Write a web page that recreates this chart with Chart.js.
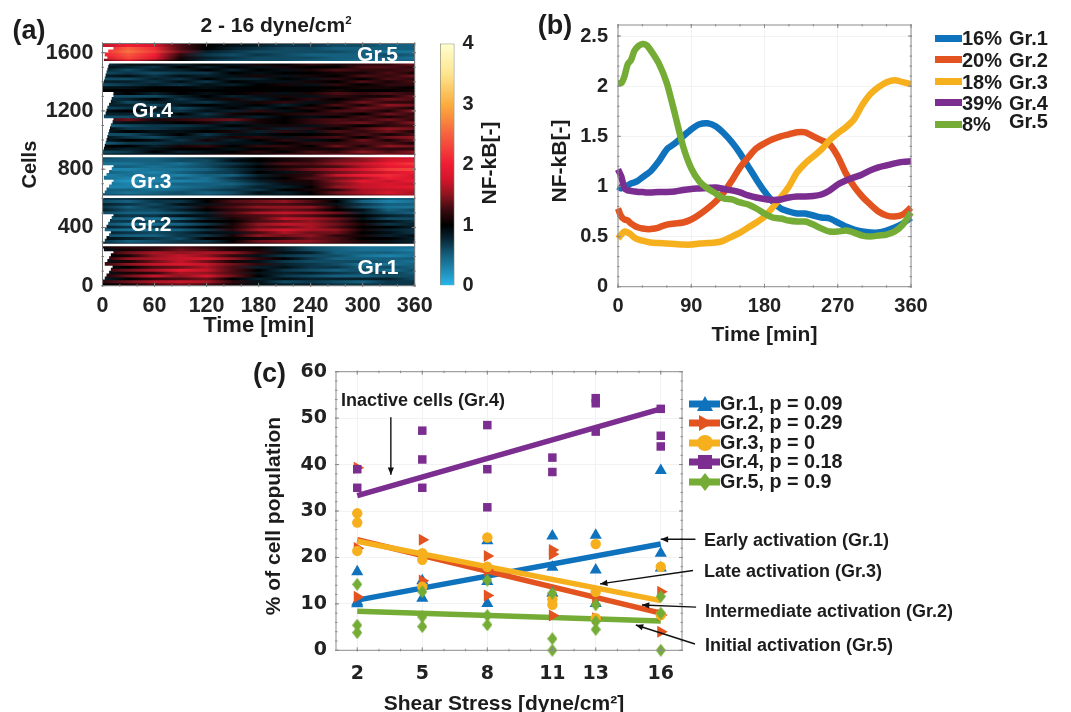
<!DOCTYPE html>
<html>
<head>
<meta charset="utf-8">
<title>NF-kB activation groups</title>
<script src="https://cdn.jsdelivr.net/npm/chart.js@4/dist/chart.umd.min.js"></script>
<style>
  html, body { margin: 0; background: #fff; }
  #page { position: relative; width: 1071px; height: 712px; overflow: hidden; filter: blur(0.45px); }
  #page canvas { position: absolute; }
  .txt { position: absolute; white-space: nowrap; color: #1c1c1c; font-weight: bold; font-family: "Liberation Sans", sans-serif; line-height: 1; transform: translate(-50%, -50%); }
  .txt.start { transform: translate(0, -50%); }
  sup { font-size: 55%; line-height: 0; }
</style>
</head>
<body>
<div id="page"></div>
<script>
// ---- Panel (a) heat map ----
const heatTimes = [0, 30, 60, 90, 120, 150, 180, 210, 240, 270, 300, 330, 360];
const heatXTicks = [0, 60, 120, 180, 240, 300, 360];
const heatYTicks = [0, 400, 800, 1200, 1600];
const groupEdges = [0, 279, 611, 891, 1534, 1663];

// each row is one strip of cells, listed bottom to top
const gr1Rows = [
  [1.0,1.1,1.3,1.4,1.3,1.1,.9,.8,.8,.7,.7,.7,.7],
  [1.2,1.4,1.6,1.7,1.6,1.2,.9,.6,.7,.6,.5,.7,.7],
  [.8,1.0,1.2,1.3,1.4,1.0,.8,.9,.8,.8,.8,.8,.6],
  [1.1,1.4,1.7,1.5,1.8,1.4,1.0,.7,.6,.5,.5,.6,.6],
  [.9,1.1,1.2,1.6,1.5,1.3,.9,.8,.8,.7,.6,.7,.5],
  [1.2,1.4,1.6,1.9,1.7,1.3,1.0,.7,.6,.5,.6,.4,.6],
  [.9,1.0,1.3,1.4,1.6,1.3,.8,.9,.7,.7,.5,.6,.5],
  [1.2,1.5,1.7,1.8,1.7,1.4,1.2,.8,.7,.6,.4,.4,.5],
  [.9,1.1,1.4,1.7,1.4,1.1,.9,.7,.6,.6,.6,.5,.4],
  [1.1,1.5,1.6,1.7,1.8,1.5,1.2,1.0,.7,.5,.5,.5,.5],
  [1.0,1.1,1.5,1.7,1.5,1.2,.9,.7,.6,.6,.4,.3,.4],
  [1.1,1.4,1.6,1.5,1.6,1.5,1.2,.9,.8,.5,.5,.5,.4],
  [.9,1.1,1.2,1.4,1.3,1.1,1.1,.8,.6,.5,.4,.4,.3],
  [1.1,1.2,1.2,1.3,1.2,1.1,1.0,.8,.6,.5,.4,.4,.4]
];
const gr2Rows = [
  [.8,.7,.7,.8,.9,1.1,1.2,1.3,1.3,1.2,1.1,1.0,.9],
  [.7,.5,.6,.7,.7,1.0,1.4,1.5,1.5,1.3,1.1,.9,.8],
  [.9,.8,.7,.6,1.0,1.0,1.1,1.2,1.4,1.3,1.0,1.0,.8],
  [.6,.5,.5,.7,.7,1.1,1.5,1.4,1.5,1.2,1.1,.8,.9],
  [.8,.7,.6,.7,.9,.9,1.3,1.6,1.4,1.4,1.0,.9,.7],
  [.5,.4,.4,.5,.7,1.2,1.6,1.8,1.6,1.5,1.1,.8,.7],
  [.8,.7,.7,.8,1.0,1.1,1.4,1.4,1.6,1.3,1.0,1.0,.8],
  [.6,.4,.4,.5,.7,1.1,1.5,1.7,1.6,1.4,1.1,.7,.8],
  [.7,.7,.6,.8,1.0,1.0,1.3,1.4,1.5,1.3,1.0,.9,.7],
  [.6,.5,.4,.5,.8,1.1,1.3,1.7,1.6,1.4,.9,.6,.6],
  [.8,.7,.7,.9,.9,1.2,1.3,1.4,1.3,1.1,1.0,.8,.7],
  [.6,.5,.5,.6,.8,1.3,1.6,1.7,1.6,1.4,.8,.6,.5],
  [.8,.6,.6,.8,1.0,1.2,1.3,1.4,1.3,1.0,.9,.5,.6],
  [.7,.5,.7,.7,1.1,1.3,1.5,1.5,1.5,1.1,.6,.4,.4],
  [.8,.7,.6,.9,.9,1.2,1.3,1.3,1.2,.9,.7,.5,.5],
  [.6,.5,.7,.7,1.0,1.3,1.4,1.5,1.3,1.0,.5,.3,.4],
  [.7,.7,.8,.9,1.0,1.1,1.2,1.2,1.1,.9,.7,.5,.5]
];
const gr3Rows = [
  [.6,.6,.6,.6,.6,.7,.8,.9,1.0,1.2,1.4,1.5,1.6],
  [.5,.4,.5,.6,.5,.6,.9,.8,1.0,1.4,1.6,1.8,1.6],
  [.5,.5,.4,.5,.6,.7,.7,1.0,1.1,1.2,1.6,1.7,1.7],
  [.3,.3,.3,.4,.5,.6,.8,.8,1.0,1.5,1.7,1.8,1.9],
  [.4,.3,.4,.5,.5,.5,.7,.9,1.1,1.4,1.7,1.8,1.7],
  [.3,.2,.3,.3,.4,.6,.8,1.1,1.1,1.5,1.9,1.7,2.0],
  [.4,.3,.3,.5,.4,.7,.9,1.0,1.3,1.4,1.6,2.0,1.8],
  [.3,.4,.4,.3,.5,.5,.8,1.1,1.2,1.7,2.0,2.1,1.8],
  [.5,.4,.3,.5,.6,.7,1.0,.9,1.2,1.4,1.6,1.8,2.0],
  [.3,.3,.4,.4,.5,.7,.9,1.2,1.4,1.6,1.8,2.2,2.3],
  [.5,.5,.4,.5,.6,.8,1.0,1.1,1.2,1.3,1.6,1.9,2.0],
  [.4,.4,.5,.4,.6,.7,.9,1.3,1.3,1.5,1.7,2.0,2.2],
  [.5,.5,.5,.6,.6,.9,1.0,1.1,1.2,1.4,1.5,1.8,1.9],
  [.6,.5,.5,.6,.7,.8,1.0,1.1,1.2,1.3,1.5,1.7,1.8]
];
const gr4Rows = [
  [.8,.9,.8,1.0,1.1,1.2,1.0,1.3,1.2,1.4,1.2,1.5,1.3],
  [.6,.7,1.0,.8,.9,1.0,1.2,1.0,1.3,1.2,1.5,1.3,1.5],
  [.9,.8,.9,1.0,1.0,.9,1.0,1.1,1.1,1.1,1.3,1.2,1.2],
  [1.0,1.0,.8,1.1,1.2,1.0,1.2,1.2,1.0,1.4,1.1,1.5,1.4],
  [.5,.7,.7,.8,.8,.9,.9,1.0,1.2,1.2,1.3,1.3,1.1],
  [.8,1.0,.9,.7,1.1,.8,1.0,1.2,.9,1.0,1.4,1.1,1.4],
  [.9,.7,.6,.8,.8,1.1,1.2,.9,1.2,1.3,1.0,1.4,1.5],
  [.6,.6,.8,1.0,.7,.9,.9,1.0,1.0,1.1,1.3,1.1,1.3],
  [.8,1.0,.9,.9,1.0,1.1,.8,1.2,.9,1.3,1.2,1.4,1.1],
  [1.0,.7,.7,.8,.9,.8,1.1,.8,1.2,1.0,1.3,1.5,1.4],
  [.5,.6,.7,.7,.8,1.0,.9,1.1,.9,1.2,1.0,1.2,1.3],
  [.8,.9,.9,1.0,1.1,.8,1.1,1.0,1.2,1.3,1.4,1.2,1.5],
  [1.2,1.4,1.1,1.2,1.3,1.4,1.1,1.0,1.2,1.3,1.2,1.4,1.2],
  [.6,.6,.7,.8,.8,.9,.8,1.0,.9,1.0,1.3,1.1,1.3],
  [.8,.8,.6,1.0,.7,1.1,1.0,1.1,1.2,1.2,1.0,1.4,1.2],
  [.9,1.0,.8,.7,.9,.8,1.2,.9,1.0,1.3,1.3,1.1,1.5],
  [.6,.7,.9,.6,.8,1.0,.8,1.0,1.2,1.0,1.4,1.3,1.1],
  [.8,.8,.6,.9,1.0,.9,1.0,.8,1.0,1.3,1.1,1.5,1.4],
  [1.0,.6,.8,.8,.7,.9,1.1,1.2,.9,1.1,1.4,1.2,1.2],
  [.7,.8,1.0,.7,.9,1.1,.8,1.0,1.2,1.0,1.2,1.4,1.3],
  [.6,.6,.6,.8,1.0,.8,.9,1.1,.9,1.2,1.1,1.1,1.4],
  [.8,1.0,.8,1.0,.9,1.0,1.1,.9,1.1,1.3,1.2,1.3,1.2],
  [1.0,1.0,1.0,1.0,1.0,1.0,1.0,1.0,1.0,1.1,1.0,1.0,1.1],
  [.9,.9,1.0,1.0,.9,1.0,1.0,1.0,1.0,1.0,1.1,1.1,1.0],
  [.6,.7,.8,.7,.9,.8,1.0,1.1,.9,1.2,1.0,1.2,1.2],
  [.8,.8,.7,.9,.7,1.0,.9,.9,1.1,1.0,1.3,1.1,1.3],
  [.6,.6,.8,.7,1.0,.8,.8,1.0,.9,1.2,1.0,1.3,1.2],
  [.8,.9,.7,.9,.8,.9,1.1,.9,1.1,1.0,1.3,1.2,1.4],
  [.6,.7,.6,.7,.7,1.0,.9,1.0,1.0,1.1,1.1,1.3,1.1],
  [.8,.6,.8,.8,1.0,.8,1.0,.9,1.1,1.3,1.2,1.2,1.3],
  [.9,.8,.7,1.0,.8,1.0,.9,1.1,1.0,1.0,1.3,1.3,1.2],
  [.7,.9,.9,.8,1.0,.9,1.1,1.0,1.2,1.1,1.2,1.2,1.4]
];
const gr5Rows = [
  [1.4,1.8,1.4,1.0,.7,.6,.6,.6,.5,.5,.4,.4,.5],
  [1.8,2.3,1.9,1.1,.8,.7,.6,.6,.6,.5,.5,.5,.4],
  [2.0,2.4,2.0,1.2,.7,.6,.7,.6,.5,.5,.5,.6,.5],
  [2.1,2.6,2.2,1.4,.8,.7,.6,.6,.6,.6,.5,.4,.4],
  [2.0,2.5,2.1,1.3,1.0,.8,.7,.6,.6,.5,.5,.5,.5],
  [1.7,2.0,1.8,1.3,1.0,.9,.8,.7,.7,.6,.6,.5,.5]
];
// time each strip starts (the white notches on the left)
const gr1Starts = [0,1,3,5,8,10,12,3,6,8,10,13,2,1];
const gr2Starts = [1,3,5,8,10,3,5,7,9,11,13,1,1,1,0,0,0];
const gr3Starts = [1,3,5,8,11,13,2,5,8,11,13,0,0,0];
const gr4Starts = [0,1,2,3,4,5,6,7,8,9,10,12,13,2,4,5,6,8,10,11,13,13,0,0,1,2,3,4,5,6,7,8];
const gr5Starts = [2,6,3,7,13,0];

// colour bar
const barValues = [0, .5, .8, 1, 1.25, 1.5, 1.75, 2, 2.5, 2.75, 3, 3.5, 4];
const barColors = ["#29b6ea","#15607f","#06202c","#000000","#3a0a10","#8f1420","#d3152b","#ef1c34","#f6623f","#f98a3c","#fbae3f","#fde590","#feffd0"];
const barTicks = [0, 1, 2, 3, 4];

// ---- Panel (b) mean curves ----
const curveTimes = [0,4,8,12,16,20,25,30,35,40,50,60,70,80,90,100,110,120,130,140,150,160,170,180,190,200,210,220,230,240,250,260,270,280,290,300,310,320,330,340,350,360];
const curveGr1 = [1.0,.98,1.0,1.01,1.03,1.04,1.06,1.09,1.12,1.15,1.25,1.37,1.43,1.50,1.57,1.62,1.63,1.60,1.53,1.44,1.33,1.20,1.07,.95,.85,.78,.75,.73,.73,.71,.69,.68,.64,.60,.57,.55,.54,.54,.56,.59,.63,.69];
const curveGr2 = [.78,.70,.67,.66,.63,.61,.59,.58,.575,.575,.59,.62,.63,.64,.67,.72,.78,.85,.94,1.06,1.19,1.29,1.38,1.43,1.47,1.50,1.52,1.54,1.54,1.50,1.46,1.42,1.30,1.13,1.00,.90,.82,.75,.71,.70,.72,.79];
const curveGr3 = [.48,.52,.55,.54,.52,.49,.47,.46,.45,.44,.435,.43,.425,.42,.42,.43,.435,.44,.46,.50,.54,.59,.64,.70,.79,.89,1.00,1.14,1.23,1.30,1.37,1.46,1.53,1.59,1.67,1.81,1.92,1.99,2.04,2.06,2.04,2.02];
const curveGr4 = [1.17,1.10,.98,.96,.955,.95,.945,.945,.94,.94,.945,.945,.95,.965,.975,.98,.985,.99,.975,.96,.94,.91,.89,.875,.865,.87,.89,.90,.90,.905,.92,.96,1.02,1.06,1.09,1.12,1.16,1.19,1.21,1.23,1.245,1.25];
const curveGr5 = [2.03,2.03,2.10,2.22,2.26,2.35,2.40,2.42,2.41,2.36,2.23,2.03,1.72,1.40,1.18,1.05,.98,.93,.88,.87,.84,.82,.78,.73,.69,.68,.66,.65,.65,.62,.58,.55,.55,.56,.54,.51,.50,.51,.52,.55,.62,.74];
const curveLegend = ["16%", "20%", "18%", "39%", "8%"];
const groupNames = ["Gr.1", "Gr.2", "Gr.3", "Gr.4", "Gr.5"];
const groupColors = ["#0e72bd", "#e2531f", "#f6b01e", "#7b2d90", "#74ac35"];

// ---- Panel (c) scatter and trends ----
const stressTicks = [2, 5, 8, 11, 13, 16];
const percentTicks = [0, 10, 20, 30, 40, 50, 60];
const gr1X = [2,2,2,5,5,8,8,8,11,11,11,13,13,13,16,16,16];
const gr1Y = [16.9,10.4,10,15,11.2,23.6,14.8,10.1,24.6,17.9,12.3,24.8,17.3,10.1,38.7,20.9,17.7];
const gr2X = [2,2,2,5,5,8,8,8,11,11,11,13,13,16,16,16];
const gr2Y = [39.3,22,11.5,23.8,15,20.3,17.3,11.8,21.6,20.7,7.5,11.2,6.9,12.6,7.6,4];
const gr3X = [2,2,2,5,5,5,8,8,11,11,13,13,13,16,16];
const gr3Y = [29.5,27.5,21.4,20.9,19.5,13.7,24.3,18,11,9.8,22.9,12.6,6.9,18,7.6];
const gr4X = [2,2,5,5,5,8,8,8,11,11,13,13,13,16,16,16];
const gr4Y = [39,35,47.3,41.1,35,48.5,39,30.8,41.5,38.4,54.3,53.2,47.1,52,46.2,43.9];
const gr5X = [2,2,2,5,5,5,8,8,8,11,11,11,13,13,13,16,16,16];
const gr5Y = [14.2,5.4,3.8,12.6,7.2,5.1,15.1,7.5,5.5,12.3,2.5,0,9.8,6.2,4.5,11.6,8,0];
const trendX = [2, 16];
const trendGr1 = [10.8, 22.9];
const trendGr2 = [23.8, 8];
const trendGr3 = [23.5, 10.7];
const trendGr4 = [33.3, 52];
const trendGr5 = [8.4, 6.3];
const pValues = ["0.09", "0.29", "0", "0.18", "0.9"];
// arrows in data units: from x, from y, to x, to y
const arrows = [
  [3.55, 50.2, 3.55, 37.8],
  [17.6, 23.9, 16, 23.9],
  [17.49, 17.2, 13.2, 14.3],
  [17.63, 9.3, 15.13, 9.75],
  [17.58, 1.36, 14.85, 5.45]
];

const page = document.getElementById("page");
const helvBold = "'Liberation Sans', sans-serif";
const dejaBold = "'DejaVu Sans', sans-serif";

function addText(html, x, y, size, opts = {}) {
  const d = document.createElement("div");
  d.className = "txt" + (opts.start ? " start" : "");
  d.innerHTML = html;
  d.style.left = x + "px";
  d.style.top = y + "px";
  d.style.fontSize = size + "px";
  if (opts.color) d.style.color = opts.color;
  if (opts.rotate) d.style.transform = `translate(-50%, -50%) rotate(${opts.rotate}deg)`;
  page.appendChild(d);
}

function addCanvas(left, top, w, h) {
  const c = document.createElement("canvas");
  c.width = w;
  c.height = h;
  c.style.left = left + "px";
  c.style.top = top + "px";
  c.style.width = w + "px";
  c.style.height = h + "px";
  page.appendChild(c);
  return c;
}

// colour for one NF-kB value
function heatColor(v) {
  let i = 0;
  while (i < barValues.length - 2 && v > barValues[i + 1]) i++;
  const f = Math.min(1, Math.max(0, (v - barValues[i]) / (barValues[i + 1] - barValues[i])));
  const a = parseInt(barColors[i].slice(1), 16), b = parseInt(barColors[i + 1].slice(1), 16);
  const mix = s => Math.round(((a >> s) & 255) * (1 - f) + ((b >> s) & 255) * f);
  return `rgb(${mix(16)},${mix(8)},${mix(0)})`;
}

// box with little ticks on all four sides, like the matlab axes
const framePlugin = {
  id: "frame",
  afterDatasetsDraw(chart, args, o) {
    const { ctx, chartArea: a, scales: { x, y } } = chart;
    ctx.save();
    ctx.strokeStyle = o.color || "#777777";
    ctx.lineWidth = 1;
    ctx.strokeRect(a.left, a.top, a.right - a.left, a.bottom - a.top);
    const mark = (x1, y1, x2, y2) => { ctx.beginPath(); ctx.moveTo(x1, y1); ctx.lineTo(x2, y2); ctx.stroke(); };
    const xTick = (v, len) => {
      const p = x.getPixelForValue(v);
      mark(p, a.bottom + 1, p, a.bottom - len);
      mark(p, a.top - 1, p, a.top + len);
    };
    const yTick = (v, len) => {
      const p = y.getPixelForValue(v);
      mark(a.left - 1, p, a.left + len, p);
      mark(a.right + 1, p, a.right - len, p);
    };
    o.xMajor.forEach(v => xTick(v, 3));
    o.yMajor.forEach(v => yTick(v, 3));
    o.xMinor.forEach(v => xTick(v, 1.5));
    o.yMinor.forEach(v => yTick(v, 1.5));
    ctx.restore();
  }
};

function steps(from, to, step) {
  const out = [];
  for (let v = from; v <= to + 1e-9; v += step) out.push(+v.toFixed(3));
  return out;
}

// keep the plot box where it was asked, labels may hang over it
function noOverhang(s) {
  s.paddingLeft = 0;
  s.paddingRight = 0;
  s.paddingTop = 0;
  s.paddingBottom = 0;
}

// options shared by the three plots; area is given in canvas pixels
function plotOptions(area, cw, ch, cfg) {
  const tickFont = { family: cfg.family, weight: "bold", size: cfg.tickSize };
  return {
    responsive: false,
    animation: false,
    devicePixelRatio: 1,
    layout: { padding: { left: cfg.padLeft, top: area.top, right: cw - area.right, bottom: cfg.padBottom } },
    plugins: {
      legend: { display: false },
      tooltip: { enabled: false },
      frame: { xMajor: cfg.xTicks, yMajor: cfg.yTicks, xMinor: cfg.xMinor, yMinor: cfg.yMinor, color: cfg.frameColor }
    },
    scales: {
      x: {
        type: "linear", min: cfg.xMin, max: cfg.xMax, offset: false,
        grid: { display: cfg.gridOn, color: "#f2f2f2", drawTicks: false },
        border: { display: false },
        afterBuildTicks: s => { s.ticks = cfg.xTicks.map(v => ({ value: v })); },
        afterFit: s => { s.height = ch - area.bottom - cfg.padBottom; noOverhang(s); },
        ticks: { font: tickFont, color: "#222", padding: cfg.xPad, minRotation: 0, maxRotation: 0, callback: v => String(v) },
        title: { display: !!cfg.xTitle, text: cfg.xTitle || "", color: "#1c1c1c", padding: 0, font: { family: helvBold, weight: "bold", size: cfg.xTitleSize } }
      },
      y: {
        type: "linear", min: cfg.yMin, max: cfg.yMax, offset: false,
        grid: { display: cfg.gridOn, color: "#f2f2f2", drawTicks: false },
        border: { display: false },
        afterBuildTicks: s => { s.ticks = cfg.yTicks.map(v => ({ value: v })); },
        afterFit: s => { s.width = area.left - cfg.padLeft; noOverhang(s); },
        ticks: { font: tickFont, color: "#222", padding: cfg.yPad, callback: v => String(v) },
        title: { display: !!cfg.yTitle, text: cfg.yTitle || "", color: "#1c1c1c", padding: 0, font: { family: helvBold, weight: "bold", size: cfg.yTitleSize } }
      }
    }
  };
}

// ---- (a) one floating bar per strip, painted with a gradient along time ----
function buildHeat() {
  const groups = [[gr1Rows, gr1Starts], [gr2Rows, gr2Starts], [gr3Rows, gr3Starts], [gr4Rows, gr4Starts], [gr5Rows, gr5Starts]];
  const rows = [], points = [];
  groups.forEach(([list, starts], g) => {
    const h = (groupEdges[g + 1] - groupEdges[g]) / list.length;
    list.forEach((vals, i) => {
      rows.push(vals);
      points.push({ x: [starts[i], 360], y: groupEdges[g] + (i + 0.5) * h });
    });
  });
  const area = { left: 102.5, top: 43.5, right: 414.7, bottom: 285.7 };
  const options = plotOptions(area, 435, 342, {
    family: helvBold, tickSize: 21.5, xTitleSize: 22, yTitleSize: 20, padLeft: 18, padBottom: 3,
    xMin: 0, xMax: 360, yMin: 0, yMax: 1663,
    xTicks: heatXTicks, yTicks: heatYTicks, xMinor: steps(0, 360, 20), yMinor: steps(0, 1600, 100),
    xPad: 7, yPad: 9, gridOn: false, frameColor: "#777777",
    xTitle: "Time [min]", yTitle: "Cells"
  });
  options.indexAxis = "y";
  const edges = groupEdges.slice(1, 5).map(v => ({
    type: "scatter", showLine: true, pointRadius: 0, borderColor: "#ffffff", borderWidth: 2.4, order: 0,
    data: [{ x: 0, y: v }, { x: 360, y: v }]
  }));
  new Chart(addCanvas(0, 0, 435, 342), {
    type: "bar",
    data: {
      datasets: [{
        data: points,
        barThickness: 3.2,
        grouped: false,
        borderWidth: 0,
        order: 1,
        backgroundColor: ctx => {
          const x = ctx.chart.scales.x;
          const x0 = x ? x.getPixelForValue(0) : NaN, x1 = x ? x.getPixelForValue(360) : NaN;
          if (!Number.isFinite(x0) || !Number.isFinite(x1) || !rows[ctx.dataIndex]) return "#000";
          const grad = ctx.chart.ctx.createLinearGradient(x0, 0, x1, 0);
          rows[ctx.dataIndex].forEach((v, k) => grad.addColorStop(heatTimes[k] / 360, heatColor(v)));
          return grad;
        }
      }, ...edges]
    },
    options,
    plugins: [framePlugin]
  });
}

// colour bar is its own small bar chart on the same value scale
function buildColorBar() {
  new Chart(addCanvas(425, 30, 60, 270), {
    type: "bar",
    data: {
      labels: ["NF-kB"],
      datasets: [{
        data: [[0, 4]],
        barPercentage: 1,
        categoryPercentage: 1,
        borderWidth: 1,
        borderColor: "#8a8a78",
        backgroundColor: ctx => {
          const y = ctx.chart.scales.y;
          const y0 = y ? y.getPixelForValue(0) : NaN, y1 = y ? y.getPixelForValue(4) : NaN;
          if (!Number.isFinite(y0) || !Number.isFinite(y1)) return "#000";
          const grad = ctx.chart.ctx.createLinearGradient(0, y0, 0, y1);
          barValues.forEach((v, i) => grad.addColorStop(v / 4, barColors[i]));
          return grad;
        }
      }]
    },
    options: {
      responsive: false, animation: false, devicePixelRatio: 1,
      layout: { padding: { left: 15, top: 13.5, right: 0, bottom: 14.5 } },
      plugins: { legend: { display: false }, tooltip: { enabled: false } },
      scales: {
        x: { display: false },
        y: {
          position: "right", min: 0, max: 4,
          grid: { display: false, drawTicks: false },
          border: { display: false },
          afterBuildTicks: s => { s.ticks = barTicks.map(v => ({ value: v })); },
          afterFit: s => { s.width = 30.5; noOverhang(s); },
          ticks: { font: { family: helvBold, weight: "bold", size: 20 }, color: "#222", padding: 8, callback: v => String(v) }
        }
      }
    }
  });
}

// ---- (b) ----
function buildCurves() {
  const area = { left: 78, top: 25, right: 371, bottom: 286.7 };
  const series = [curveGr1, curveGr2, curveGr3, curveGr4, curveGr5];
  const options = plotOptions(area, 410, 350, {
    family: helvBold, tickSize: 20, xTitleSize: 21, padLeft: 8, padBottom: 2,
    xMin: 0, xMax: 360, yMin: 0, yMax: 2.61,
    xTicks: [0, 90, 180, 270, 360], yTicks: [0, .5, 1, 1.5, 2, 2.5],
    xMinor: steps(0, 360, 30), yMinor: steps(0, 2.5, .1),
    xPad: 8, yPad: 10, gridOn: true, frameColor: "#8c8c8c",
    xTitle: "Time [min]"
  });
  new Chart(addCanvas(540, 0, 410, 350), {
    type: "line",
    data: {
      datasets: series.map((vals, i) => ({
        data: vals.map((v, k) => ({ x: curveTimes[k], y: v })),
        borderColor: groupColors[i],
        borderWidth: 6.5,
        pointRadius: 0,
        tension: 0.25,
        clip: false,
        order: 5 - i
      }))
    },
    options,
    plugins: [framePlugin]
  });
  // legend
  const rowY = [38, 59.5, 81.7, 102.7, 124];
  curveLegend.forEach((pct, i) => {
    const sw = document.createElement("div");
    sw.style.cssText = `position:absolute;left:935px;top:${rowY[i] - 3.5}px;width:27px;height:7px;background:${groupColors[i]}`;
    page.appendChild(sw);
    addText(pct, 962, rowY[i], 20, { start: true });
    addText(groupNames[i], 1009, i === 4 ? 121 : rowY[i], 20, { start: true });
  });
}

// narrow diamond used for Gr.5 markers
function diamondMarker(color) {
  const c = document.createElement("canvas");
  c.width = 10;
  c.height = 13;
  const g = c.getContext("2d");
  g.fillStyle = color;
  g.beginPath();
  g.moveTo(5, 0); g.lineTo(10, 6.5); g.lineTo(5, 13); g.lineTo(0, 6.5);
  g.closePath();
  g.fill();
  return c;
}

// ---- (c) ----
function buildScatter() {
  const area = { left: 86, top: 11.7, right: 432, bottom: 290.3 };
  const cw = 730, ch = 352;
  const options = plotOptions(area, cw, ch, {
    family: dejaBold, tickSize: 19, padLeft: 9.5, padBottom: 0,
    xMin: 1.02, xMax: 16.98, yMin: 0, yMax: 60,
    xTicks: stressTicks, yTicks: percentTicks, xMinor: steps(2, 16, 1), yMinor: steps(0, 60, 2),
    xPad: 12, yPad: 9, gridOn: true, frameColor: "#8c8c8c"
  });
  const toPts = (xs, ys) => xs.map((x, i) => ({ x, y: ys[i] }));
  const trends = [trendGr1, trendGr2, trendGr3, trendGr4, trendGr5].map((ys, i) => ({
    data: toPts(trendX, ys), showLine: true, pointRadius: 0, borderColor: groupColors[i], borderWidth: 5.5, order: 10 - i
  }));
  const marks = [
    { data: toPts(gr1X, gr1Y), pointStyle: "triangle", pointRadius: 7, rotation: 0 },
    { data: toPts(gr2X, gr2Y), pointStyle: "triangle", pointRadius: 7, rotation: 90 },
    { data: toPts(gr3X, gr3Y), pointStyle: "circle", pointRadius: 5.2, rotation: 0 },
    { data: toPts(gr4X, gr4Y), pointStyle: "rect", pointRadius: 6, rotation: 0 },
    { data: toPts(gr5X, gr5Y), pointStyle: diamondMarker(groupColors[4]), pointRadius: 6, rotation: 0 }
  ].map((d, i) => ({
    ...d, showLine: false, pointBackgroundColor: groupColors[i], pointBorderWidth: 0,
    pointRotation: d.rotation, clip: false, order: 5 - i
  }));
  const arrowPlugin = {
    id: "arrows",
    afterDatasetsDraw(chart) {
      const { ctx, scales: { x, y } } = chart;
      ctx.save();
      ctx.strokeStyle = "#111";
      ctx.fillStyle = "#111";
      ctx.lineWidth = 1.4;
      arrows.forEach(([x1, y1, x2, y2]) => {
        const ax = x.getPixelForValue(x1), ay = y.getPixelForValue(y1);
        const bx = x.getPixelForValue(x2), by = y.getPixelForValue(y2);
        const ang = Math.atan2(by - ay, bx - ax);
        ctx.beginPath(); ctx.moveTo(ax, ay); ctx.lineTo(bx, by); ctx.stroke();
        ctx.beginPath();
        ctx.moveTo(bx, by);
        ctx.lineTo(bx - 8 * Math.cos(ang - 0.4), by - 8 * Math.sin(ang - 0.4));
        ctx.lineTo(bx - 8 * Math.cos(ang + 0.4), by - 8 * Math.sin(ang + 0.4));
        ctx.closePath();
        ctx.fill();
      });
      ctx.restore();
    }
  };
  new Chart(addCanvas(250, 360, cw, ch), {
    type: "scatter",
    data: { datasets: [...trends, ...marks] },
    options,
    plugins: [framePlugin, arrowPlugin]
  });
  // legend, swatch is line plus marker
  const rowY = [404, 423.3, 442.7, 461.7, 481.7];
  const shapes = [
    '<polygon points="16,1 24,16 8,16"/>',
    '<polygon points="10,1 24,9 10,17"/>',
    '<circle cx="16" cy="9" r="8"/>',
    '<rect x="9" y="2" width="14" height="14"/>',
    '<polygon points="16,0 23,9 16,18 9,9"/>'
  ];
  groupNames.forEach((name, i) => {
    const holder = document.createElement("div");
    holder.style.cssText = `position:absolute;left:689px;top:${rowY[i] - 9}px;width:31px;height:18px`;
    holder.innerHTML = `<svg width="31" height="18" fill="${groupColors[i]}"><rect x="0" y="5.5" width="31" height="7"/>${shapes[i]}</svg>`;
    page.appendChild(holder);
    addText(`${name}, p = ${pValues[i]}`, 720, rowY[i], 19.8, { start: true });
  });
}

buildHeat();
buildColorBar();
buildCurves();
buildScatter();

// panel letters and notes
addText("(a)", 29, 30, 27);
addText("(b)", 555, 25, 27);
addText("(c)", 269.5, 372.7, 27);
addText("2 - 16 dyne/cm<sup>2</sup>", 276, 24, 21);
addText("NF-kB[-]", 488, 163, 21, { rotate: -90 });
addText("NF-kB[-]", 558, 161, 21, { rotate: -90 });
addText("% of cell population", 272, 515.7, 21, { rotate: -90 });
addText("Shear Stress [dyne/cm²]", 504, 701.7, 21);
addText("Gr.5", 377.5, 52.7, 21, { color: "#fff" });
addText("Gr.4", 152.5, 109, 21, { color: "#fff" });
addText("Gr.3", 151, 179.7, 21, { color: "#fff" });
addText("Gr.2", 151, 223, 21, { color: "#fff" });
addText("Gr.1", 378, 266, 21, { color: "#fff" });
addText("Inactive cells (Gr.4)", 341, 400, 18, { start: true });
addText("Early activation (Gr.1)", 704, 540, 18, { start: true });
addText("Late activation (Gr.3)", 704, 570.7, 18, { start: true });
addText("Intermediate activation (Gr.2)", 705, 610.7, 18, { start: true });
addText("Initial activation (Gr.5)", 705, 645, 18, { start: true });
</script>
</body>
</html>
